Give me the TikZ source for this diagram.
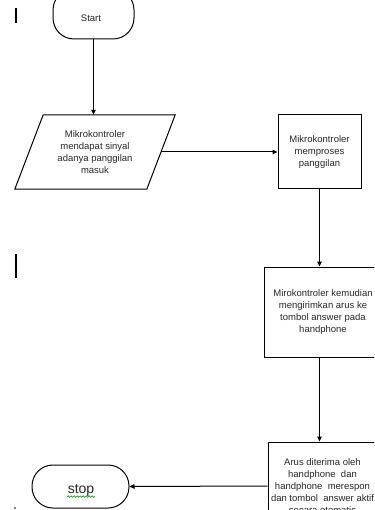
\documentclass[tikz,border=0pt]{standalone}
\usepackage{fontspec}
\setmainfont{Liberation Sans}
\usetikzlibrary{arrows.meta,decorations.pathmorphing,calc}
\begin{document}
\begin{tikzpicture}[x=1pt,y=-1pt,
  box/.style={draw,line width=1pt,inner sep=0pt},
  term/.style={draw,line width=1pt,rounded corners=21pt,inner sep=0pt},
  lbl/.style={align=center,font=\fontsize{9.5}{12}\selectfont,text=black!85},
  arr/.style={line width=1pt,-{Triangle[length=5pt,width=4.5pt]}},
  bar/.style={line width=1.6pt}]
\useasboundingbox (0,0) rectangle (374,510);
\clip (0,0) rectangle (374,510);

% margin marks
\draw[bar] (16,8) -- (16,23);
\draw[bar] (16,254) -- (16,278);
\fill (15,508) circle (0.8pt);

% terminators
\node[term,minimum width=81pt,minimum height=50pt] (start) at (93.5,14) {};
\node[lbl] (starttxt) at (91,18) {Start};

\node[term,minimum width=97pt,minimum height=43pt] (stop) at (80.5,486.5) {};
\node[font=\fontsize{14}{16}\selectfont,text=black!85] (stoptxt) at (81,490) {stop};
\draw[green!60!black,line width=0.6pt,decorate,decoration={snake,amplitude=0.8pt,segment length=3pt}]
  ($(stoptxt.base west)+(3,3.5)$) -- ($(stoptxt.base east)+(-3,3.5)$);

% parallelogram
\node[lbl,minimum width=160pt,minimum height=74pt,inner sep=0pt] (para) at (95,152)
  {Mikrokontroler\\mendapat sinyal\\adanya panggilan\\masuk};
\draw[line width=1pt] (para.south west) -- ++(132,0) -- (para.north east) -- ++(-132,0) -- cycle;

% process boxes
\node[box,lbl,minimum width=83pt,minimum height=74pt] (proc) at (319.5,152)
  {Mikrokontroler\\memproses\\panggilan};
\node[box,lbl,minimum width=118pt,minimum height=90pt] (send) at (323,312)
  {Mirokontroler kemudian\\mengirimkan arus ke\\tombol answer pada\\handphone};
\node[box,lbl,minimum width=109pt,minimum height=88pt] (recv) at (322.5,486)
  {Arus diterima oleh\\handphone\ \ dan\\handphone\ \ merespon\\dan tombol\ \ answer aktif\\secara otomatis};

% connector anchors
\coordinate (sendout) at ($(send.south west)+(56,0)$);

% connectors
\draw[arr] (start.south) -- (start.south |- para.north);
\draw[arr] ($(para.east)+(-14,0)$) -- (proc.west);
\draw[arr] (proc.south) -- (proc.south |- send.north);
\draw[arr] (sendout) -- (sendout |- recv.north);
\draw[arr] (recv.west) -- (stop.east);
\end{tikzpicture}
\end{document}
